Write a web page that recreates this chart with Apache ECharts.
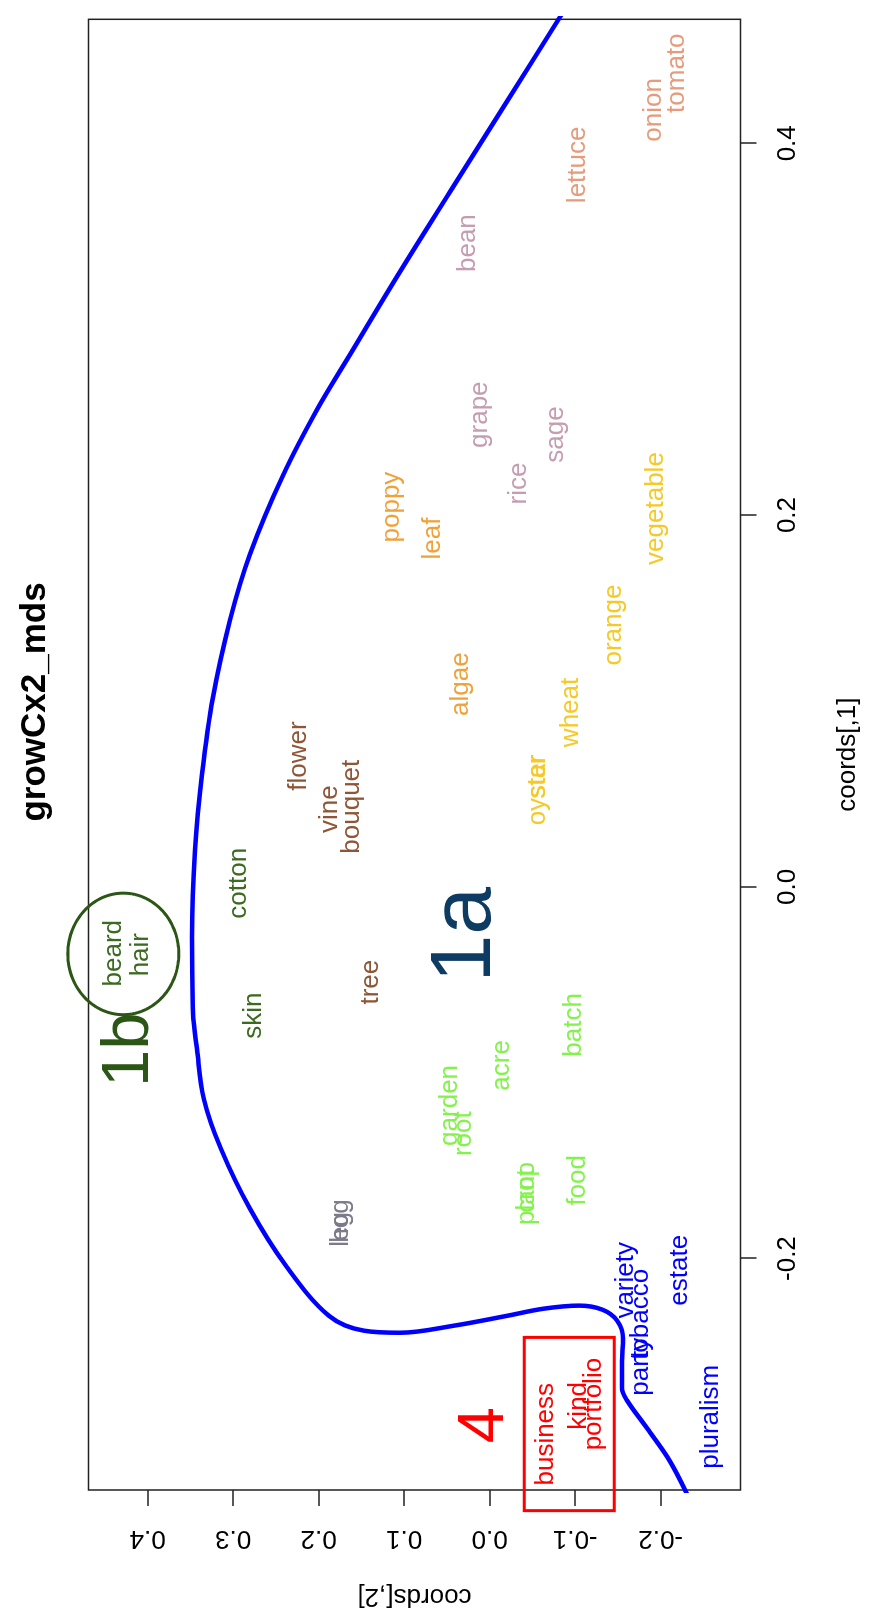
<!DOCTYPE html>
<html>
<head>
<meta charset="utf-8">
<script src="https://cdn.jsdelivr.net/npm/echarts@6/dist/echarts.min.js"></script>
<style>
html, body { margin:0; padding:0; width:871px; height:1617px; overflow:hidden; background:#fff; }
#wrap { position:absolute; left:0; top:0; width:1617px; height:871px; transform-origin:0 0; transform:translateY(1617px) rotate(-90deg); }
</style>
</head>
<body>
<div id="wrap"></div>
<script>
// ---- data (coords[,1] = x, coords[,2] = y) ----
const words = ['tomato','onion','lettuce','bean','grape','sage','rice','poppy','leaf','vegetable',
  'orange','algae','wheat','oyster','star','flower','vine','bouquet','cotton','beard',
  'hair','skin','tree','garden','root','acre','batch','plant','crop','food',
  'hog','leg','variety','tobacco','party','estate','pluralism','business','kind','portfolio'];
const xs = [0.4377,0.4180,0.3884,0.3463,0.2540,0.2433,0.2170,0.2043,0.1874,0.2035,
  0.1408,0.1090,0.0938,0.0521,0.0590,0.0704,0.0418,0.0431,0.0019,-0.0357,
  -0.0365,-0.0693,-0.0513,-0.1176,-0.1328,-0.0961,-0.0743,-0.1668,-0.1617,-0.1579,
  -0.1798,-0.1843,-0.2117,-0.2300,-0.2582,-0.2063,-0.2851,-0.2945,-0.2792,-0.2783];
const ys = [-0.2190,-0.1925,-0.1036,0.0257,0.0117,-0.0779,-0.0346,0.1146,0.0667,-0.1942,
  -0.1454,0.0339,-0.0951,-0.0557,-0.0557,0.2227,0.1864,0.1607,0.2929,0.4398,
  0.4078,0.2753,0.1388,0.0468,0.0304,-0.0140,-0.0989,-0.0440,-0.0440,-0.1036,
  0.1743,0.1743,-0.1591,-0.1770,-0.1766,-0.2229,-0.2585,-0.0658,-0.1048,-0.1220];
const groups = ['salmon','salmon','salmon','mauve','mauve','mauve','mauve','amber','amber','gold',
  'gold','amber','gold','gold','gold','brown','brown','brown','dkgreen','dkgreen',
  'dkgreen','dkgreen','brown','lime','lime','lime','lime','lime','lime','lime',
  'gray','gray','blue','blue','blue','blue','blue','red','red','red'];

// annotations
const annoText = ['1a','1b','4'];
const annoX = [-0.0258,-0.0876,-0.2896];
const annoY = [0.0270,0.4216,0.0055];

// hand-drawn boundary curve
const curveX = [0.4722,0.4234,0.3739,0.3309,0.2863,0.2567,0.2213,0.1788,0.1433,0.1020,
  0.0606,0.0198,-0.0270,-0.0678,-0.0872,-0.1142,-0.1410,-0.1732,-0.2039,-0.2308,
  -0.2388,-0.2399,-0.2361,-0.2308,-0.2270,-0.2253,-0.2274,-0.2333,-0.2430,-0.2553,
  -0.2698,-0.2763,-0.2913,-0.3091,-0.3301];
const curveY = [-0.0881,-0.0214,0.0464,0.1049,0.1634,0.2020,0.2418,0.2804,0.3038,0.3237,
  0.3365,0.3447,0.3482,0.3470,0.3424,0.3342,0.3143,0.2804,0.2383,0.1880,
  0.1470,0.1049,0.0418,-0.0202,-0.0623,-0.1044,-0.1313,-0.1489,-0.1559,-0.1547,
  -0.1547,-0.1606,-0.1840,-0.2109,-0.2343];

// ellipse around beard/hair: center and radii (data units)
const ellipseC = [-0.0361, 0.4285];
const ellipseR = [0.0327, 0.0649];
// red rectangle: [x0, x1], [y0, y1]
const rectX = [-0.3356, -0.2424];
const rectY = [-0.1457, -0.0405];

// axes
const X_MIN = -0.3245, X_MAX = 0.4667;
const Y_MIN = -0.2933, Y_MAX = 0.4692;
const xTicks = [-0.2, 0.0, 0.2, 0.4];
const yTicks = [-0.2, -0.1, 0.0, 0.1, 0.2, 0.3, 0.4];

// ---- styles ----
const FONT = "'Liberation Sans', Arimo, Arial, Helvetica, sans-serif";
const palette = {
  salmon:'#e69c7c', mauve:'#c49db3', amber:'#f0a23a', gold:'#f5c928', brown:'#8e5637',
  dkgreen:'#3b6a20', lime:'#84f24c', gray:'#7d7a8a', blue:'#0000ff', red:'#ff0000'
};
const annoColor = ['#0e3b61', '#2c5616', '#ff0000'];
const annoSize = [86, 67, 65];

const fmt = v => { const r = Math.round(v * 10) / 10; return (r === 0 ? 0 : r).toFixed(1); };

const chart = echarts.init(document.getElementById('wrap'), null, { renderer: 'canvas', width: 1617, height: 871 });

const wordData = words.map((w, i) => ({
  name: w, value: [xs[i], ys[i]],
  label: { color: palette[groups[i]] }
}));
const annoData = annoText.map((t, i) => ({
  name: t, value: [annoX[i], annoY[i]],
  label: { color: annoColor[i], fontSize: annoSize[i] }
}));

const option = {
  animation: false,
  backgroundColor: '#fff',
  title: {
    text: 'growCx2_mds', left: 910, top: 13, textAlign: 'center',
    textStyle: { fontSize: 35, fontWeight: 'bold', fontFamily: FONT, color: '#000' }
  },
  grid: { left: 125.3, right: 19.3, top: 88.5, bottom: 130.5, show: true, borderColor: '#222', borderWidth: 1.5, backgroundColor: 'transparent' },
  xAxis: {
    type: 'value', min: X_MIN, max: X_MAX,
    name: 'coords[,1]', nameLocation: 'middle', nameGap: 94,
    nameTextStyle: { fontSize: 26, fontFamily: FONT, color: '#000' },
    axisLine: { show: false, onZero: false }, splitLine: { show: false },
    axisTick: { show: true, length: 16, customValues: xTicks, lineStyle: { color: '#222', width: 1.5 } },
    axisLabel: { show: true, customValues: xTicks, margin: 34, fontSize: 26, fontFamily: FONT, color: '#000', formatter: fmt }
  },
  yAxis: {
    type: 'value', min: Y_MIN, max: Y_MAX,
    name: 'coords[,2]', nameLocation: 'middle', nameGap: 93, nameRotate: 90,
    nameTextStyle: { fontSize: 26, fontFamily: FONT, color: '#000' },
    axisLine: { show: false, onZero: false }, splitLine: { show: false },
    axisTick: { show: true, length: 16, customValues: yTicks, lineStyle: { color: '#222', width: 1.5 } },
    axisLabel: { show: true, customValues: yTicks, margin: 35, rotate: 90, fontSize: 26, fontFamily: FONT, color: '#000', formatter: fmt }
  },
  series: [
    {
      type: 'scatter', name: 'words', data: wordData, symbolSize: 0, silent: true,
      itemStyle: { opacity: 1 },
      label: { show: true, position: 'inside', formatter: '{b}', fontSize: 26, fontFamily: FONT, align: 'center', verticalAlign: 'middle' },
      z: 3
    },
    {
      type: 'scatter', name: 'annotations', data: annoData, symbolSize: 0, silent: true, clip: false,
      itemStyle: { opacity: 1 },
      label: { show: true, position: 'inside', formatter: '{b}', fontFamily: FONT, align: 'center', verticalAlign: 'middle' },
      z: 4
    },
    {
      type: 'custom', name: 'shapes', silent: true, clip: false, z: 5,
      data: [[0]],
      renderItem: function (params, api) {
        const c = api.coord(ellipseC);
        const e = api.coord([ellipseC[0] + ellipseR[0], ellipseC[1] + ellipseR[1]]);
        const rx = Math.abs(e[0] - c[0]), ry = Math.abs(c[1] - e[1]);
        const pts = [];
        for (let k = 0; k < 120; k++) {
          const a = k / 120 * Math.PI * 2;
          pts.push([c[0] + rx * Math.cos(a), c[1] + ry * Math.sin(a)]);
        }
        const p0 = api.coord([rectX[0], rectY[1]]);
        const p1 = api.coord([rectX[1], rectY[0]]);
        return {
          type: 'group',
          children: [
            { type: 'polygon', shape: { points: pts }, style: { fill: 'none', stroke: '#2c5616', lineWidth: 3 } },
            { type: 'rect', shape: { x: p0[0], y: p0[1], width: p1[0] - p0[0], height: p1[1] - p0[1] }, style: { fill: 'none', stroke: '#ff0000', lineWidth: 3 } }
          ]
        };
      }
    },
    {
      type: 'line', name: 'boundary', data: curveX.map((x, i) => [x, curveY[i]]),
      smooth: 0.35, showSymbol: false, symbol: 'none', clip: false, silent: true,
      lineStyle: { color: '#0000ff', width: 4.5 }, z: 6
    }
  ]
};
chart.setOption(option);
</script>
</body>
</html>
